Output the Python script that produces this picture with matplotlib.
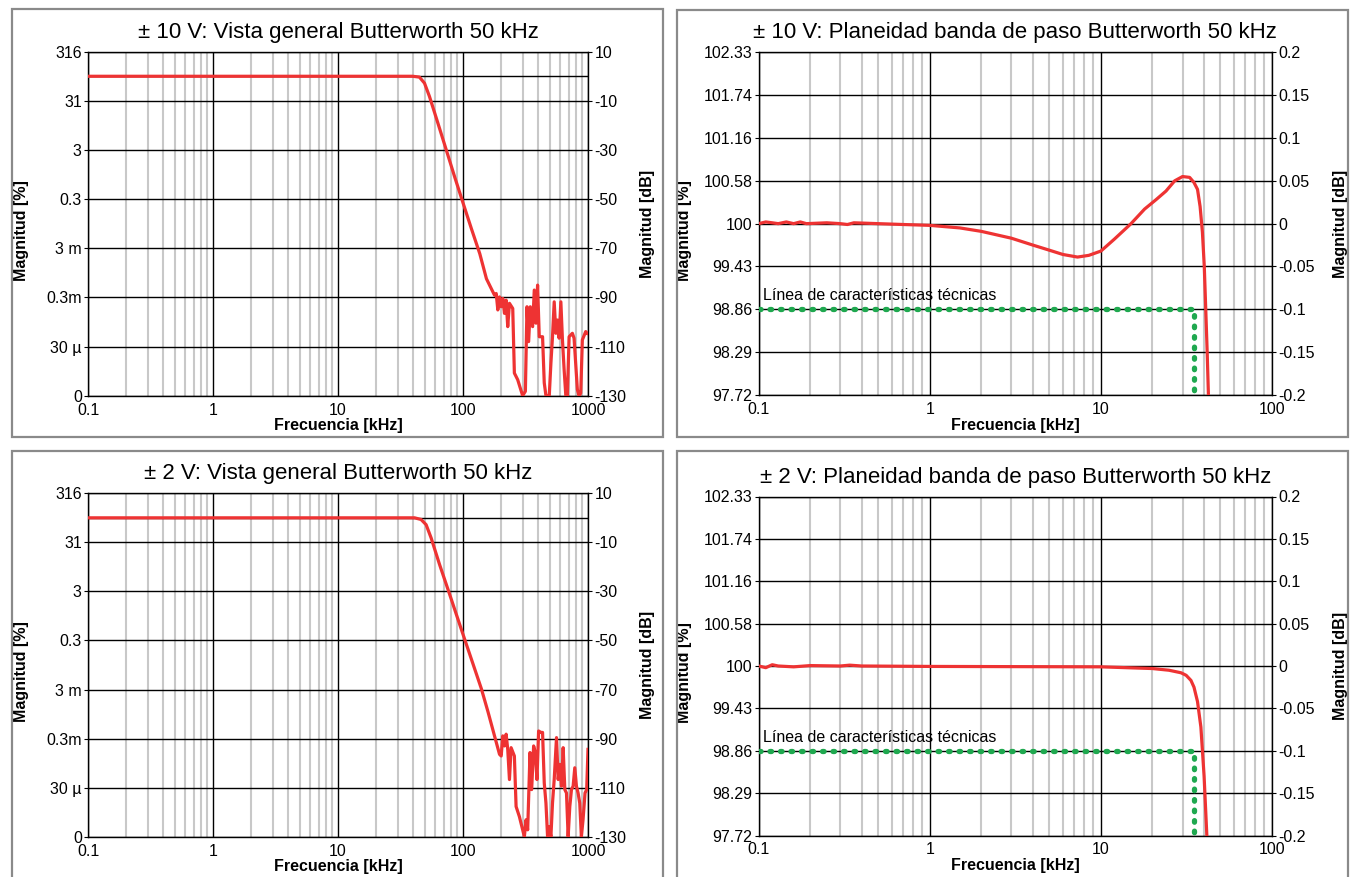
import numpy as np
import matplotlib
matplotlib.use('Agg')
import matplotlib.pyplot as plt
from matplotlib.patches import Rectangle
from matplotlib.ticker import FixedLocator, NullFormatter

plt.rcParams['font.family'] = ['Liberation Sans', 'DejaVu Sans']
plt.rcParams['axes.unicode_minus'] = False

W, H = 1352, 877

# ---- datos ----
# ± 10 V, vista general (kHz, dB)
f_ov10 = [0.1, 1, 10, 39.6, 44.8, 49.2, 53.9, 63, 73.5, 85.7, 100, 116.7, 136.2, 154,
          178.7, 184.4, 189.9, 195.9, 202.1, 208, 214.7, 221.3, 228, 235.3, 250, 257.6,
          273.9, 300, 315.5, 325, 335, 345.5, 360.6, 371.7, 383.7, 395.1, 407.5, 433,
          446.7, 460.9, 489.7, 505, 520, 536.5, 553.5, 570, 587.5, 606.6, 624.6, 644.2,
          664.5, 684, 706, 750, 773.6, 822, 847, 874.6, 901, 958.7, 987]
db_ov10 = [0, 0, 0, 0, -0.34, -2.8, -8.2, -19.1, -30, -40.9, -51.5, -62, -72.2, -82.4,
           -89.1, -88.4, -95.1, -89.8, -93.8, -90.4, -96.5, -91.1, -101.9, -92.4, -94.5, -120.8,
           -123.5, -130, -128.2, -93.8, -108, -93.8, -101.9, -87, -100.5, -85, -106, -106,
           -124.8, -130, -130, -116.7, -106, -91.8, -104.6, -99.2, -106.6, -91.8, -107.3, -119.4,
           -130, -130, -106, -104.6, -106.6, -127.5, -130, -129, -107.3, -103.9, -104.6]

# ± 2 V, vista general (kHz, dB)
f_ov2 = [0.1, 1, 10, 41, 46.2, 50.7, 55.6, 64.9, 78.2, 91.2, 103.1, 120.3, 140.3, 158.7,
         195.9, 202.1, 208, 214.7, 221.3, 228, 235.3, 242.6, 257.6, 265.9, 282.5, 309.7,
         319.2, 329.2, 343.6, 354.2, 367.3, 378.8, 390.5, 402.7, 420.3, 433, 446.7, 460.9,
         474.9, 489.7, 505, 520, 536.5, 559.8, 577.2, 595.2, 613.7, 632.8, 652.5, 672.7,
         693.6, 715.2, 737.4, 760.3, 783.9, 808.2, 833.2, 859, 885.2, 912.7, 946.5, 975.9, 1000]
db_ov2 = [0, 0, 0, 0, -0.68, -2.8, -8.2, -19, -31.2, -41.4, -49.5, -59.6, -69.7, -79.2,
          -96.4, -97.1, -88.9, -93, -88.2, -94.4, -106.7, -93.7, -97.1, -117.7, -121.8, -130,
          -123.1, -127.2, -95.7, -110.8, -93, -95.7, -106.7, -86.9, -87.5, -87.5, -108.1, -116.3,
          -130, -125.9, -130, -116.3, -106.7, -89.6, -106.7, -100.5, -109.4, -93.7, -110.8, -112.2,
          -130, -117.7, -110.8, -109.4, -101.9, -109.4, -112.2, -116.3, -130, -123.1, -112.2, -110.8, -94.4]

# ± 10 V, planeidad (kHz, dB)
f_pb10 = [0.1, 0.11, 0.12, 0.13, 0.145, 0.16, 0.175, 0.19, 0.25, 0.3, 0.33, 0.36, 0.5, 0.7,
          1, 1.5, 2, 3, 4, 5, 6, 7.3, 8.5, 10, 12, 15, 18, 21, 24, 27, 30, 33, 35, 36.7,
          38, 39.2, 40.2, 41, 41.8, 42.5, 43]
db_pb10 = [0.0, 0.002, 0.001, 0.0, 0.002, 0.0, 0.002, 0.0, 0.001, 0.0, -0.001, 0.001, 0.0, -0.001,
           -0.002, -0.005, -0.009, -0.017, -0.025, -0.031, -0.036, -0.039, -0.037, -0.032, -0.018, 0.0,
           0.017, 0.028, 0.038, 0.05, 0.055, 0.054, 0.048, 0.04, 0.02, -0.01, -0.05, -0.1, -0.15,
           -0.2, -0.25]

# ± 2 V, planeidad (kHz, dB)
f_pb2 = [0.1, 0.11, 0.12, 0.13, 0.16, 0.2, 0.3, 0.34, 0.4, 1, 10, 20, 25, 29.4, 31.5, 33.6,
         35, 36.7, 38.4, 40.1, 41.5, 42, 42.5]
db_pb2 = [0.0, -0.002, 0.0015, 0.0, -0.001, 0.0005, 0.0, 0.001, 0.0, -0.0005, -0.001, -0.003,
          -0.005, -0.008, -0.011, -0.017, -0.025, -0.042, -0.072, -0.13, -0.195, -0.22, -0.25]

# línea de características técnicas
spec_f = [0.1, 35, 35]
spec_db = [-0.1, -0.1, -0.2]

ov_ticks = [10, -10, -30, -50, -70, -90, -110, -130]
ov_pct = ['316', '31', '3', '0.3', '3 m', '0.3m', '30 µ', '0']
ov_db = ['10', '-10', '-30', '-50', '-70', '-90', '-110', '-130']
ov_x = [0.1, 1, 10, 100, 1000]

pb_ticks = [0.2, 0.15, 0.1, 0.05, 0, -0.05, -0.1, -0.15, -0.2]
pb_pct = ['102.33', '101.74', '101.16', '100.58', '100', '99.43', '98.86', '98.29', '97.72']
pb_db = ['0.2', '0.15', '0.1', '0.05', '0', '-0.05', '-0.1', '-0.15', '-0.2']
pb_x = [0.1, 1, 10, 100]

RED = '#ee3333'
GREEN = '#1fa84f'
GRAY = '#c8c8c8'
FS = 11.5

fig = plt.figure(figsize=(W / 100, H / 100), dpi=100)


def px_axes(x0, y0, x1, y1):
    return fig.add_axes([x0 / W, 1 - y1 / H, (x1 - x0) / W, (y1 - y0) / H])


def box(x0, y0, x1, y1):
    fig.patches.append(Rectangle((x0 / W, 1 - y1 / H), (x1 - x0) / W, (y1 - y0) / H,
                                 transform=fig.transFigure, fill=False,
                                 edgecolor='#8a8a8a', linewidth=1.6))


def setup(ax, xlim, xt, ylim, yt, lpct, ldb, title, lab_l, lab_r):
    ax.set_xscale('log')
    ax.set_xlim(*xlim)
    ax.set_ylim(*ylim)
    ax.set_axisbelow(True)
    ax.xaxis.set_major_locator(FixedLocator(xt))
    ax.set_xticklabels([f'{v:g}' for v in xt])
    ax.xaxis.set_minor_formatter(NullFormatter())
    ax.yaxis.set_major_locator(FixedLocator(yt))
    ax.set_yticklabels(lpct)
    ax.tick_params(axis='x', which='both', length=0, labelsize=FS, pad=5)
    ax.tick_params(axis='y', length=3, labelsize=FS, pad=1.5, color='black')
    ax.grid(which='minor', axis='x', color=GRAY, linewidth=1.5)
    ax.grid(which='major', axis='both', color='black', linewidth=1.0)
    for s in ax.spines.values():
        s.set_color('black')
        s.set_linewidth(1.0)
    ax.set_title(title, fontsize=16, pad=10)
    ax.set_xlabel('Frecuencia [kHz]', fontsize=FS, fontweight='bold')
    ax.xaxis.set_label_coords(0.5, -0.066)
    ax.set_ylabel('Magnitud [%]', fontsize=FS, fontweight='bold')
    ax.yaxis.set_label_coords(lab_l, 0.48)
    ax2 = ax.twinx()
    ax2.set_ylim(*ylim)
    ax2.yaxis.set_major_locator(FixedLocator(yt))
    ax2.set_yticklabels(ldb)
    ax2.tick_params(axis='y', length=3, labelsize=FS, pad=1.5)
    ax2.set_ylabel('Magnitud [dB]', fontsize=FS, fontweight='bold')
    ax2.yaxis.set_label_coords(lab_r, 0.5)
    for s in ax2.spines.values():
        s.set_visible(False)
    return ax2


# recuadros de los paneles
box(12, 9, 663, 437)
box(677, 10, 1348, 437)
box(12, 451, 663, 880)
box(677, 451, 1348, 880)

# ---- vista general ----
for (y0, y1), title, f, db in [((51.7, 395.7), '± 10 V: Vista general Butterworth 50 kHz', f_ov10, db_ov10),
                               ((493.3, 836.7), '± 2 V: Vista general Butterworth 50 kHz', f_ov2, db_ov2)]:
    ax = px_axes(88, y0, 588, y1)
    setup(ax, (0.1, 1000), ov_x, (-130, 10), ov_ticks, ov_pct, ov_db, title, -0.118, 1.104)
    ax.axhline(0, color='black', linewidth=1.0, zorder=2)
    ax.plot(f, db, color=RED, linewidth=2.3, zorder=5)

# ---- planeidad banda de paso ----
for (y0, y1), title, f, db in [((52.3, 395), '± 10 V: Planeidad banda de paso Butterworth 50 kHz', f_pb10, db_pb10),
                               ((496.5, 835.5), '± 2 V: Planeidad banda de paso Butterworth 50 kHz', f_pb2, db_pb2)]:
    ax = px_axes(758.7, y0, 1272, y1)
    setup(ax, (0.1, 100), pb_x, (-0.2, 0.2), pb_ticks, pb_pct, pb_db, title, -0.13, 1.118)
    ax.plot(spec_f, spec_db, color=GREEN, linewidth=3.8, linestyle=(0, (0.3, 1.69)),
            dash_capstyle='round', zorder=4)
    ax.text(0.106, -0.093, 'Línea de características técnicas', fontsize=FS, va='bottom', ha='left')
    ax.plot(f, db, color=RED, linewidth=2.3, zorder=5)

fig.savefig('out.png', dpi=100)
